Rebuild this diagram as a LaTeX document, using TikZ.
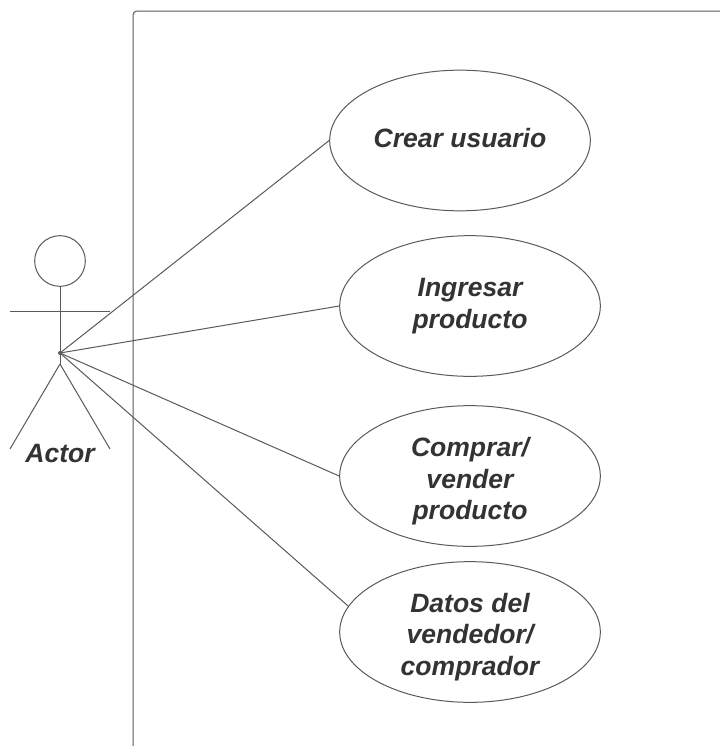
\documentclass[tikz,border=0pt]{standalone}
\usepackage{fontspec}
\setmainfont{Liberation Sans}
\usetikzlibrary{shapes.geometric}
\definecolor{ln}{HTML}{5A5A5A}
\definecolor{tx}{HTML}{333333}
\newcommand{\shiftln}[2]{\raisebox{#1}[\height][\depth]{#2}}
\tikzset{
  every path/.style={line width=0.75pt},
  uc/.style={draw=ln,ellipse,minimum width=195.5pt,minimum height=105.5pt,inner sep=0pt,align=center,text=tx,font=\fontsize{19.9}{23.7}\selectfont\bfseries\itshape},
  wire/.style={draw=ln},
  lab/.style={text=tx,inner sep=0pt,font=\fontsize{19.9}{24}\selectfont\bfseries\itshape}
}
\begin{document}
\begin{tikzpicture}[x=0.75pt,y=-0.75pt]
\useasboundingbox (0,0) rectangle (720,746);
\fill[white] (0,0) rectangle (720,746);
\draw[wire,rounded corners=3pt] (133,746) -- (133,11) -- (720,11);
\node[uc] (a) at (460,140.5) {\shiftln{1.5pt}{Crear usuario}};
\node[uc] (b) at (470,306) {Ingresar\\producto};
\node[uc] (c) at (470,476) {\shiftln{-3.9pt}{Comprar/}\\\shiftln{-3.9pt}{vender}\\\shiftln{-3.9pt}{producto}};
\node[uc] (d) at (470,632) {\shiftln{-3.7pt}{Datos del}\\\shiftln{-3.7pt}{vendedor/}\\\shiftln{-3.7pt}{comprador}};
\node[draw=ln,circle,minimum size=38pt,inner sep=0pt] (head) at (60,261) {};
\coordinate (hub) at (60,353);
\coordinate (waist) at (60,364);
\coordinate (al) at (10,311);
\coordinate (ar) at (110,311);
\coordinate (fl) at (10,449);
\coordinate (fr) at (110,449);
\draw[wire] (head.south) -- (waist);
\draw[wire] (al) -- (ar);
\draw[wire] (waist) -- (fl);
\draw[wire] (waist) -- (fr);
\node[lab] (actor) at (60,453) {Actor};
\draw[wire] (hub) -- (a.west);
\draw[wire] (hub) -- (b.west);
\draw[wire] (hub) -- (c.west);
\draw[wire] (hub) -- (d.168);
\fill[ln] (hub) circle (2);
\end{tikzpicture}
\end{document}
